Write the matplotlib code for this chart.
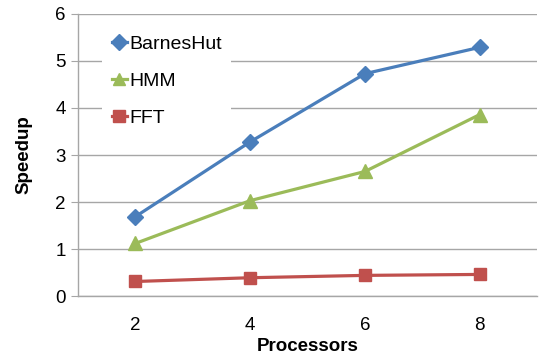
import matplotlib
matplotlib.use("Agg")
import matplotlib.pyplot as plt

plt.rcParams['font.family'] = ['Liberation Sans', 'DejaVu Sans']

# Speedup per processor count
processors = [2, 4, 6, 8]
barneshut = [1.69, 3.28, 4.73, 5.29]
hmm = [1.12, 2.03, 2.65, 3.86]
fft = [0.31, 0.39, 0.44, 0.46]

GRID = "#A6A6A6"

fig = plt.figure(figsize=(5.42, 3.58), dpi=100)
ax = fig.add_axes([0.144, 0.173, 0.847, 0.788])

ax.plot(processors, barneshut, color="#4A7EBB", lw=2.3, marker="D",
        ms=8.5, label="BarnesHut", zorder=3)
ax.plot(processors, hmm, color="#9BBB59", lw=2.3, marker="^",
        ms=10, label="HMM", zorder=3)
ax.plot(processors, fft, color="#C0504D", lw=2.3, marker="s",
        ms=9, label="FFT", zorder=3)

ax.set_xlim(1, 9)
ax.set_ylim(0, 6)
ax.set_xticks(processors)
ax.set_yticks(range(0, 7))
ax.yaxis.grid(True, color=GRID, lw=1.0)
ax.set_axisbelow(True)

for side in ("top", "right"):
    ax.spines[side].set_visible(False)
for side in ("left", "bottom"):
    ax.spines[side].set_color(GRID)
    ax.spines[side].set_linewidth(1.0)

ax.tick_params(axis="y", length=5, color=GRID, labelsize=13.5, pad=4)
ax.tick_params(axis="x", length=0, labelsize=13.5, pad=15)

ax.set_xlabel("Processors", fontsize=13.5, fontweight="bold", labelpad=3)
ax.set_ylabel("Speedup", fontsize=13.5, fontweight="bold", labelpad=16)

leg = ax.legend(loc="upper left", bbox_to_anchor=(0.052, 0.958),
                fontsize=14, frameon=True, fancybox=False,
                handlelength=0.8, handletextpad=0.1, labelspacing=1.0,
                borderpad=0.5, borderaxespad=0, markerscale=0.9)
leg.get_frame().set_facecolor("white")
leg.get_frame().set_edgecolor("none")
leg.get_frame().set_alpha(1.0)

fig.savefig("out.png", dpi=100)
